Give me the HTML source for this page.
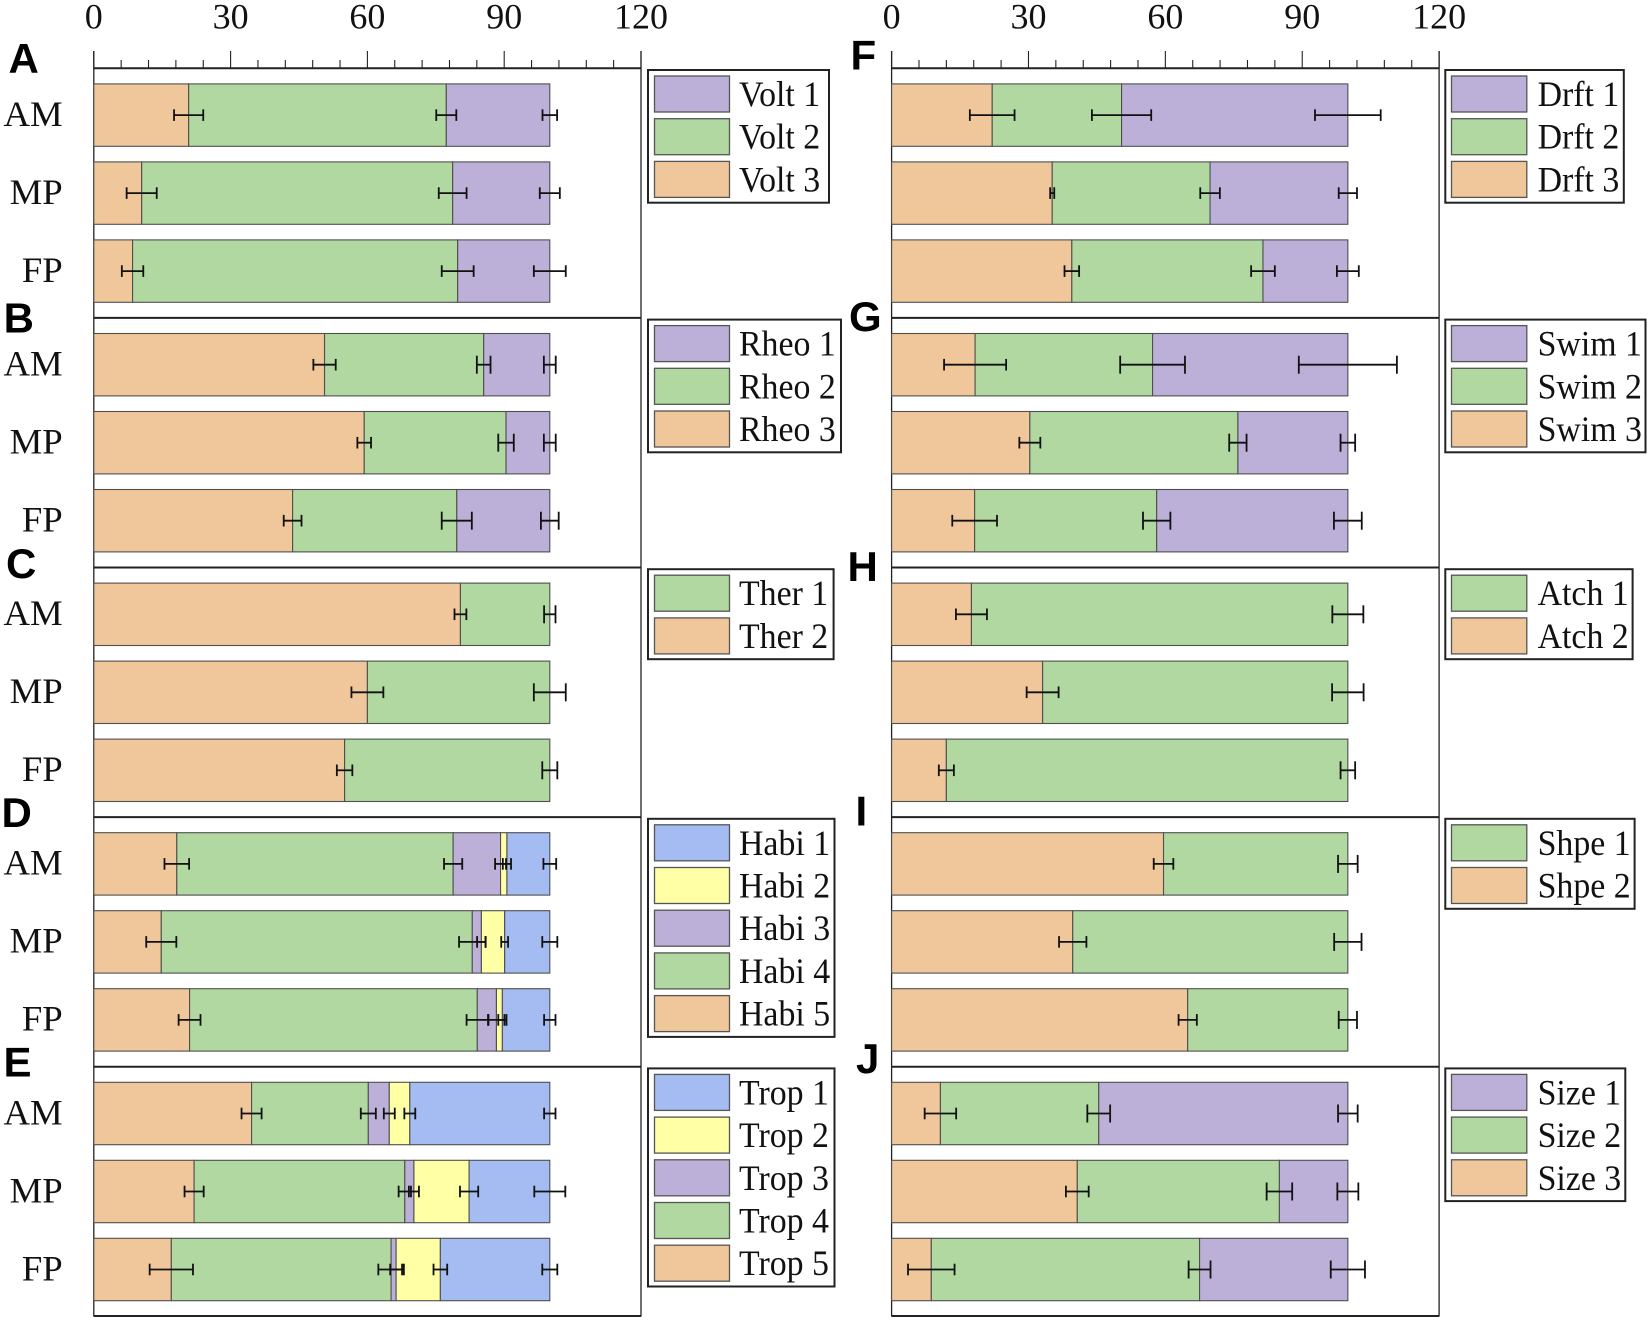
<!DOCTYPE html>
<html lang="en">
<head>
<meta charset="utf-8">
<title>Trait composition stacked bars</title>
<style>
html,body{margin:0;padding:0;background:#fff;width:1649px;height:1320px;overflow:hidden}
svg{display:block}
text{font-family:"Liberation Serif",serif;fill:#111}
text.letter{font-family:"Liberation Sans",sans-serif;font-weight:bold;fill:#000}
</style>
</head>
<body>
<svg id="chart" xmlns="http://www.w3.org/2000/svg" width="1649" height="1320" viewBox="0 0 1649 1320"></svg>
<script>
const categories = ['AM', 'MP', 'FP'];
const tickLabels = [0, 30, 60, 90, 120];
const minorStep = 6;
const axisMax = 120;

const voltValues = [[20.8, 56.5, 22.7], [10.5, 68.2, 21.3], [8.5, 71.3, 20.2]];
const voltErrors = [[3.2, 2.2, 1.6], [3.3, 3.05, 2.2], [2.35, 3.5, 3.5]];
const rheoValues = [[50.6, 34.9, 14.5], [59.3, 31.1, 9.6], [43.6, 36, 20.4]];
const rheoErrors = [[2.45, 1.5, 1.3], [1.5, 1.7, 1.3], [1.95, 3.3, 1.95]];
const therValues = [[80.4, 19.6], [60, 40], [55, 45]];
const therErrors = [[1.3, 1.25], [3.5, 3.5], [1.7, 1.65]];
const habiValues = [[18.2, 60.6, 10.4, 1.4, 9.4], [14.8, 68.2, 2, 5.1, 9.9], [21, 63.1, 4.2, 1.3, 10.4]];
const habiErrors = [[2.7, 2, 1.2, 0.9, 1.4], [3.3, 2.9, 0.94, 0.75, 1.65], [2.4, 2.35, 1.75, 0.9, 1.25]];
const tropValues = [[34.6, 25.6, 4.6, 4.5, 30.7], [22, 46.2, 2, 12.1, 17.7], [17, 48.2, 1.1, 9.7, 24]];
const tropErrors = [[2.2, 1.65, 1.2, 1.2, 1.25], [2.1, 1.35, 1.1, 2, 3.4], [4.75, 2.8, 1.3, 1.5, 1.65]];
const drftValues = [[22.05, 28.35, 49.6], [35.2, 34.6, 30.2], [39.5, 41.9, 18.6]];
const drftErrors = [[4.9, 6.5, 7.2], [0.45, 2.15, 2], [1.6, 2.6, 2.4]];
const swimValues = [[18.3, 38.9, 42.8], [30.3, 45.6, 24.1], [18.2, 39.9, 41.9]];
const swimErrors = [[6.8, 7.1, 10.75], [2.3, 1.9, 1.6], [4.9, 3, 3.05]];
const atchValues = [[17.5, 82.5], [33.1, 66.9], [12, 88]];
const atchErrors = [[3.4, 3.4], [3.5, 3.45], [1.65, 1.6]];
const shpeValues = [[59.6, 40.4], [39.7, 60.3], [64.9, 35.1]];
const shpeErrors = [[2.15, 2.15], [3, 3], [2, 2]];
const sizeValues = [[10.7, 34.7, 54.6], [40.7, 44.3, 15], [8.7, 58.8, 32.5]];
const sizeErrors = [[3.45, 2.5, 2.15], [2.5, 2.8, 2.3], [5.1, 2.4, 3.75]];

const voltLabels = ['Volt 3', 'Volt 2', 'Volt 1'];
const rheoLabels = ['Rheo 3', 'Rheo 2', 'Rheo 1'];
const therLabels = ['Ther 2', 'Ther 1'];
const habiLabels = ['Habi 5', 'Habi 4', 'Habi 3', 'Habi 2', 'Habi 1'];
const tropLabels = ['Trop 5', 'Trop 4', 'Trop 3', 'Trop 2', 'Trop 1'];
const drftLabels = ['Drft 3', 'Drft 2', 'Drft 1'];
const swimLabels = ['Swim 3', 'Swim 2', 'Swim 1'];
const atchLabels = ['Atch 2', 'Atch 1'];
const shpeLabels = ['Shpe 2', 'Shpe 1'];
const sizeLabels = ['Size 3', 'Size 2', 'Size 1'];

const palette = ['#f0c79a', '#b0d8a0', '#bcb0d8', '#ffffa6', '#a4bcf2'];

const columns = [
  {x0: 93.8, x1: 641, legendX: 648, swatchX: 654.5, swatchW: 75, textX: 739, showCats: true},
  {x0: 891.6, x1: 1439.1, legendX: 1445.3, swatchX: 1451.5, swatchW: 75.3, textX: 1537.6, showCats: false}
];
const panels = [
  {id: 'a', col: 0, row: 0, letter: 'A', lx: 8.5, ly: 73, v: voltValues, e: voltErrors, l: voltLabels, lr: 829, longCaps: false},
  {id: 'b', col: 0, row: 1, letter: 'B', lx: 3.6, ly: 332.5, v: rheoValues, e: rheoErrors, l: rheoLabels, lr: 841, longCaps: true},
  {id: 'c', col: 0, row: 2, letter: 'C', lx: 6, ly: 578, v: therValues, e: therErrors, l: therLabels, lr: 833.6, longCaps: true},
  {id: 'd', col: 0, row: 3, letter: 'D', lx: 1.5, ly: 827, v: habiValues, e: habiErrors, l: habiLabels, lr: 834.5, longCaps: false},
  {id: 'e', col: 0, row: 4, letter: 'E', lx: 3.5, ly: 1076.5, v: tropValues, e: tropErrors, l: tropLabels, lr: 834.5, longCaps: false},
  {id: 'f', col: 1, row: 0, letter: 'F', lx: 850.5, ly: 69.5, v: drftValues, e: drftErrors, l: drftLabels, lr: 1623.8, longCaps: false},
  {id: 'g', col: 1, row: 1, letter: 'G', lx: 849, ly: 331, v: swimValues, e: swimErrors, l: swimLabels, lr: 1645.5, longCaps: true},
  {id: 'h', col: 1, row: 2, letter: 'H', lx: 847.5, ly: 581, v: atchValues, e: atchErrors, l: atchLabels, lr: 1632.6, longCaps: true},
  {id: 'i', col: 1, row: 3, letter: 'I', lx: 855.5, ly: 825.5, v: shpeValues, e: shpeErrors, l: shpeLabels, lr: 1634.6, longCaps: true},
  {id: 'j', col: 1, row: 4, letter: 'J', lx: 856, ly: 1073, v: sizeValues, e: sizeErrors, l: sizeLabels, lr: 1625.3, longCaps: true}
];

const NS = 'http://www.w3.org/2000/svg';
const svg = document.getElementById('chart');
const AXIS_Y = 68.3, PANEL_H = 249.6, BAR_OFF = 15.6, BAR_H = 62.4, BAR_STEP = 78;

function make(tag, parent, attrs) {
  const el = document.createElementNS(NS, tag);
  for (const k in attrs) el.setAttribute(k, attrs[k]);
  parent.appendChild(el);
  return el;
}
function xScale(col, v) { return col.x0 + (col.x1 - col.x0) * v / axisMax; }
function panelTop(row) { return AXIS_Y + PANEL_H * row; }
function barTop(row, c) { return panelTop(row) + BAR_OFF + BAR_STEP * c; }

columns.forEach(function (col, ci) {
  const axis = make('g', svg, {});
  
  
  const top = make('line', axis, {x1: col.x0, x2: col.x1, y1: AXIS_Y, y2: AXIS_Y, stroke: '#222', 'stroke-width': 2});
  
  
  for (let v = 0; v <= axisMax; v += minorStep) {
    const major = v % 30 === 0;
    const t = make('line', axis, {x1: xScale(col, v), x2: xScale(col, v), y1: major ? 51 : 60, y2: AXIS_Y, stroke: '#222', 'stroke-width': 1.1});
    
    
  }
  tickLabels.forEach(function (lab) {
    const t = make('text', axis, {x: xScale(col, lab), y: 28.5, 'text-anchor': 'middle', 'font-size': 36});
    t.textContent = lab;
    
    
  });
  const left = make('line', axis, {x1: col.x0, x2: col.x0, y1: 51, y2: 1316.5, stroke: '#222', 'stroke-width': 1.3});
  
  
  const right = make('line', axis, {x1: col.x1, x2: col.x1, y1: 51, y2: 1316.5, stroke: '#222', 'stroke-width': 1.3});
  
  
  const bottom = make('line', axis, {x1: col.x0, x2: col.x1, y1: 1316, y2: 1316, stroke: '#222', 'stroke-width': 2});
  
  
});

panels.forEach(function (p) {
  const col = columns[p.col];
  const g = make('g', svg, {});
  
  

  if (p.row > 0) {
    const sep = make('line', g, {x1: col.x0, x2: col.x1, y1: panelTop(p.row), y2: panelTop(p.row), stroke: '#222', 'stroke-width': 2});
    
    
  }

  const letter = make('text', g, {x: p.lx, y: p.ly, 'font-size': 42, class: 'letter'});
  letter.textContent = p.letter;
  
  

  p.v.forEach(function (row, c) {
    const y = barTop(p.row, c);
    if (col.showCats) {
      const cat = make('text', g, {x: 62.7, y: y + 42, 'text-anchor': 'end', 'font-size': 36, transform: 'translate(62.7 0) scale(1.02 1) translate(-62.7 0)'});
      cat.textContent = categories[c];
      
      
    }
    let cum = 0;
    row.forEach(function (val, s) {
      const r = make('rect', g, {x: xScale(col, cum), y: y, width: xScale(col, cum + val) - xScale(col, cum), height: BAR_H, fill: palette[s], stroke: '#4f4f4f', 'stroke-width': 1.1});
      
      
      cum += val;
    });
    cum = 0;
    row.forEach(function (val, s) {
      cum += val;
      const err = p.e[c][s];
      const cy = y + BAR_H / 2;
      const half = (p.longCaps && s > 0) ? 9 : 5.8;
      const xa = xScale(col, cum - err), xb = xScale(col, cum + err);
      const eg = make('g', g, {stroke: '#111', 'stroke-width': 1.8, fill: 'none'});
      
      
      make('line', eg, {x1: xa, x2: xb, y1: cy, y2: cy});
      make('line', eg, {x1: xa, x2: xa, y1: cy - half, y2: cy + half});
      make('line', eg, {x1: xb, x2: xb, y1: cy - half, y2: cy + half});
    });
  });

  const n = p.l.length;
  const ltop = panelTop(p.row) + 1.7;
  const legend = make('g', g, {});
  
  
  const box = make('rect', legend, {x: col.legendX, y: ltop, width: p.lr - col.legendX, height: 6 + (n - 1) * 42.7 + 36 + 5.3, fill: '#fff', stroke: '#222', 'stroke-width': 2});
  
  
  for (let i = 0; i < n; i++) {
    const s = n - 1 - i;
    const sy = ltop + 6 + i * 42.7;
    const sw = make('rect', legend, {x: col.swatchX, y: sy, width: col.swatchW, height: 36, fill: palette[s], stroke: '#555', 'stroke-width': 1.3});
    
    
    const tx = make('text', legend, {'font-size': 36, transform: 'translate(' + col.textX + ' ' + (sy + 30) + ') scale(0.94 1)'});
    tx.textContent = p.l[s];
    
    
  }
});
</script>
</body>
</html>
